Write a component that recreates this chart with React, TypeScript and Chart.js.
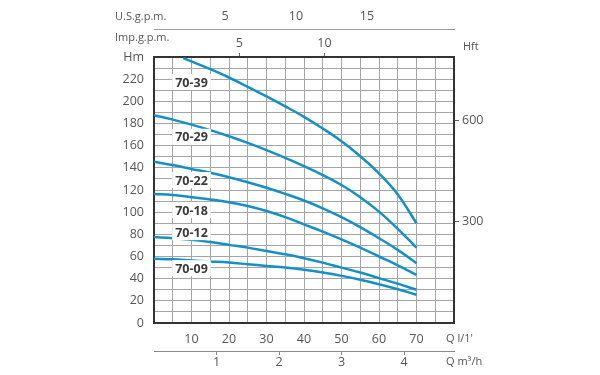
import React, { useEffect, useRef } from 'react';
import { Chart, registerables } from 'chart.js';
Chart.register(...registerables);

// Flow (l/min) sample points
const qFull = [0, 5, 10, 15, 20, 25, 30, 35, 40, 45, 50, 55, 60, 65, 70];
const q39 = [7.8, 15, 20, 25, 30, 35, 40, 45, 50, 55, 60, 65, 70];

// Head (m) for each pump
const h39 = [239, 229, 221.5, 213, 204.5, 195.5, 186, 175.5, 164, 150.5, 135, 116, 90];
const h29 = [187.5, 183.5, 179, 174, 168.5, 162.5, 156, 149, 141.5, 133.5, 124.5, 113.5, 100.5, 85, 68];
const h22 = [145.5, 142.5, 139, 135.5, 131.5, 127, 122, 116.5, 110.5, 103.5, 95.5, 86.5, 76.5, 66, 54];
const h18 = [116.5, 115.5, 113.5, 111.5, 109, 105.5, 101, 95.5, 89, 82.5, 75.5, 68, 60, 52, 43.5];
const h12 = [77.5, 76.5, 75, 73, 70.5, 68, 65, 62, 58.5, 54.5, 50, 45.5, 40.5, 35.5, 30];
const h09 = [58, 57.5, 56.5, 55.5, 54.5, 53, 51.5, 50, 48, 45.5, 42.5, 39, 35, 30.5, 25.5];

const curveNames = ['70-39', '70-29', '70-22', '70-18', '70-12', '70-09'];
const curveLabelQ = [10, 10, 10, 10, 10, 10];
const curveLabelH = [217.5, 168, 129, 102, 82, 49.5];

// Tick values for secondary axes
const usGpmTicks = [5, 10, 15];
const impGpmTicks = [5, 10];
const m3hTicks = [1, 2, 3, 4];
const hftTicks = [300, 600];

const LPM_PER_USGPM = 3.78541;
const LPM_PER_IMPGPM = 4.54609;
const M3H_PER_LPM = 0.06;
const FT_PER_M = 3.28084;
const Q_MAX = 80;
const H_MAX = 240;

const BLUE = '#1590c6';
const GRID = '#a4a4a4';
const FRAME = '#333333';
const TEXT = '#555555';
const FONT = "'Open Sans', sans-serif";

const extraText = {
  id: 'extraText',
  afterDatasetsDraw(chart: any) {
    const { ctx, scales } = chart;
    ctx.save();
    ctx.font = `bold 12.5px ${FONT}`;
    ctx.textAlign = 'center';
    ctx.textBaseline = 'middle';
    curveNames.forEach((name, i) => {
      const x = scales.x.getPixelForValue(curveLabelQ[i]);
      const y = scales.y.getPixelForValue(curveLabelH[i]);
      const w = ctx.measureText(name).width;
      ctx.fillStyle = '#ffffff';
      ctx.fillRect(x - w / 2 - 3, y - 8, w + 6, 16);
      ctx.fillStyle = '#3a3a3a';
      ctx.fillText(name, x, y + 1);
    });
    ctx.restore();
  },
  afterDraw(chart: any) {
    const { ctx, chartArea } = chart;
    ctx.save();
    ctx.fillStyle = TEXT;
    ctx.font = `11px ${FONT}`;
    ctx.textBaseline = 'middle';
    ctx.textAlign = 'left';
    ctx.fillText('U.S.g.p.m.', 115, 17);
    ctx.fillText('Imp.g.p.m.', 115, 38);
    ctx.fillText('Hft', chartArea.right + 9, 47);
    ctx.fillText("Q l/1'", chartArea.right - 8, 339);
    ctx.fillText('Q m³/h', chartArea.right - 8, 362);
    ctx.restore();
  },
};

export default function App() {
  const ref = useRef<HTMLCanvasElement | null>(null);
  useEffect(() => {
    if (!ref.current) return;
    Chart.defaults.font.family = FONT;
    Chart.defaults.font.size = 12.5;
    Chart.defaults.color = TEXT;
    const mk = (qs: number[], hs: number[]) => ({
      data: qs.map((q, i) => ({ x: q, y: hs[i] })),
      borderColor: BLUE,
      borderWidth: 2.5,
      pointRadius: 0,
      fill: false,
      tension: 0.4,
      xAxisID: 'x',
      yAxisID: 'y',
    });
    const chart = new Chart(ref.current, {
      type: 'line',
      data: {
        datasets: [
          mk(q39, h39),
          mk(qFull, h29),
          mk(qFull, h22),
          mk(qFull, h18),
          mk(qFull, h12),
          mk(qFull, h09),
        ],
      },
      options: {
        animation: false,
        responsive: false,
        layout: { padding: 0 },
        plugins: { legend: { display: false }, tooltip: { enabled: false } },
        scales: {
          x: {
            type: 'linear',
            position: 'bottom',
            weight: 1,
            min: 0,
            max: Q_MAX,
            grid: { color: GRID, lineWidth: 1, drawTicks: false },
            border: { display: true, color: FRAME, width: 2 },
            ticks: {
              stepSize: 5,
              autoSkip: false,
              maxRotation: 0,
              padding: 9,
              callback: (v: any) => (v % 10 === 0 && v > 0 && v < Q_MAX ? String(v) : ''),
            },
            afterFit: (s: any) => { s.height = 28; },
          },
          xM3h: {
            type: 'linear',
            position: 'bottom',
            weight: 2,
            min: 0,
            max: Q_MAX * M3H_PER_LPM,
            grid: { drawOnChartArea: false, drawTicks: true, tickLength: 4, color: '#888' },
            border: { display: true, color: '#888', width: 1 },
            ticks: { padding: 0, maxRotation: 0, autoSkip: false },
            afterBuildTicks: (s: any) => { s.ticks = m3hTicks.map((v) => ({ value: v })); },
            afterFit: (s: any) => { s.height = 24; },
          },
          xImp: {
            type: 'linear',
            position: 'top',
            weight: 1,
            min: 0,
            max: Q_MAX / LPM_PER_IMPGPM,
            grid: { drawOnChartArea: false, drawTicks: true, tickLength: 4, color: '#666' },
            border: { display: true, color: FRAME, width: 2 },
            ticks: { padding: 2, maxRotation: 0, autoSkip: false },
            afterBuildTicks: (s: any) => { s.ticks = impGpmTicks.map((v) => ({ value: v })); },
            afterFit: (s: any) => { s.height = 28; },
          },
          xUS: {
            type: 'linear',
            position: 'top',
            weight: 2,
            min: 0,
            max: Q_MAX / LPM_PER_USGPM,
            grid: { drawOnChartArea: false, drawTicks: false },
            border: { display: true, color: '#999', width: 1 },
            ticks: { padding: 5, maxRotation: 0, autoSkip: false },
            afterBuildTicks: (s: any) => { s.ticks = usGpmTicks.map((v) => ({ value: v })); },
            afterFit: (s: any) => { s.height = 29; },
          },
          y: {
            type: 'linear',
            position: 'left',
            min: 0,
            max: H_MAX,
            grid: { color: GRID, lineWidth: 1, drawTicks: false },
            border: { display: true, color: FRAME, width: 2 },
            ticks: {
              stepSize: 10,
              autoSkip: false,
              padding: 10,
              callback: (v: any) => (v === H_MAX ? 'Hm' : v % 20 === 0 ? String(v) : ''),
            },
            afterFit: (s: any) => { s.width = 154; },
          },
          y2: {
            type: 'linear',
            position: 'right',
            min: 0,
            max: H_MAX * FT_PER_M,
            grid: { drawOnChartArea: false, drawTicks: true, tickLength: 5, color: '#666' },
            border: { display: true, color: FRAME, width: 2 },
            ticks: { padding: 3, autoSkip: false },
            afterBuildTicks: (s: any) => { s.ticks = hftTicks.map((v) => ({ value: v })); },
            afterFit: (s: any) => { s.width = 146; },
          },
        },
      } as any,
      plugins: [extraText],
    });
    return () => chart.destroy();
  }, []);
  return (
    <div style={{ position: 'fixed', left: 0, top: 0, width: 600, height: 375, background: '#fff' }}>
      <canvas ref={ref} width={600} height={375} style={{ display: 'block' }} />
    </div>
  );
}
